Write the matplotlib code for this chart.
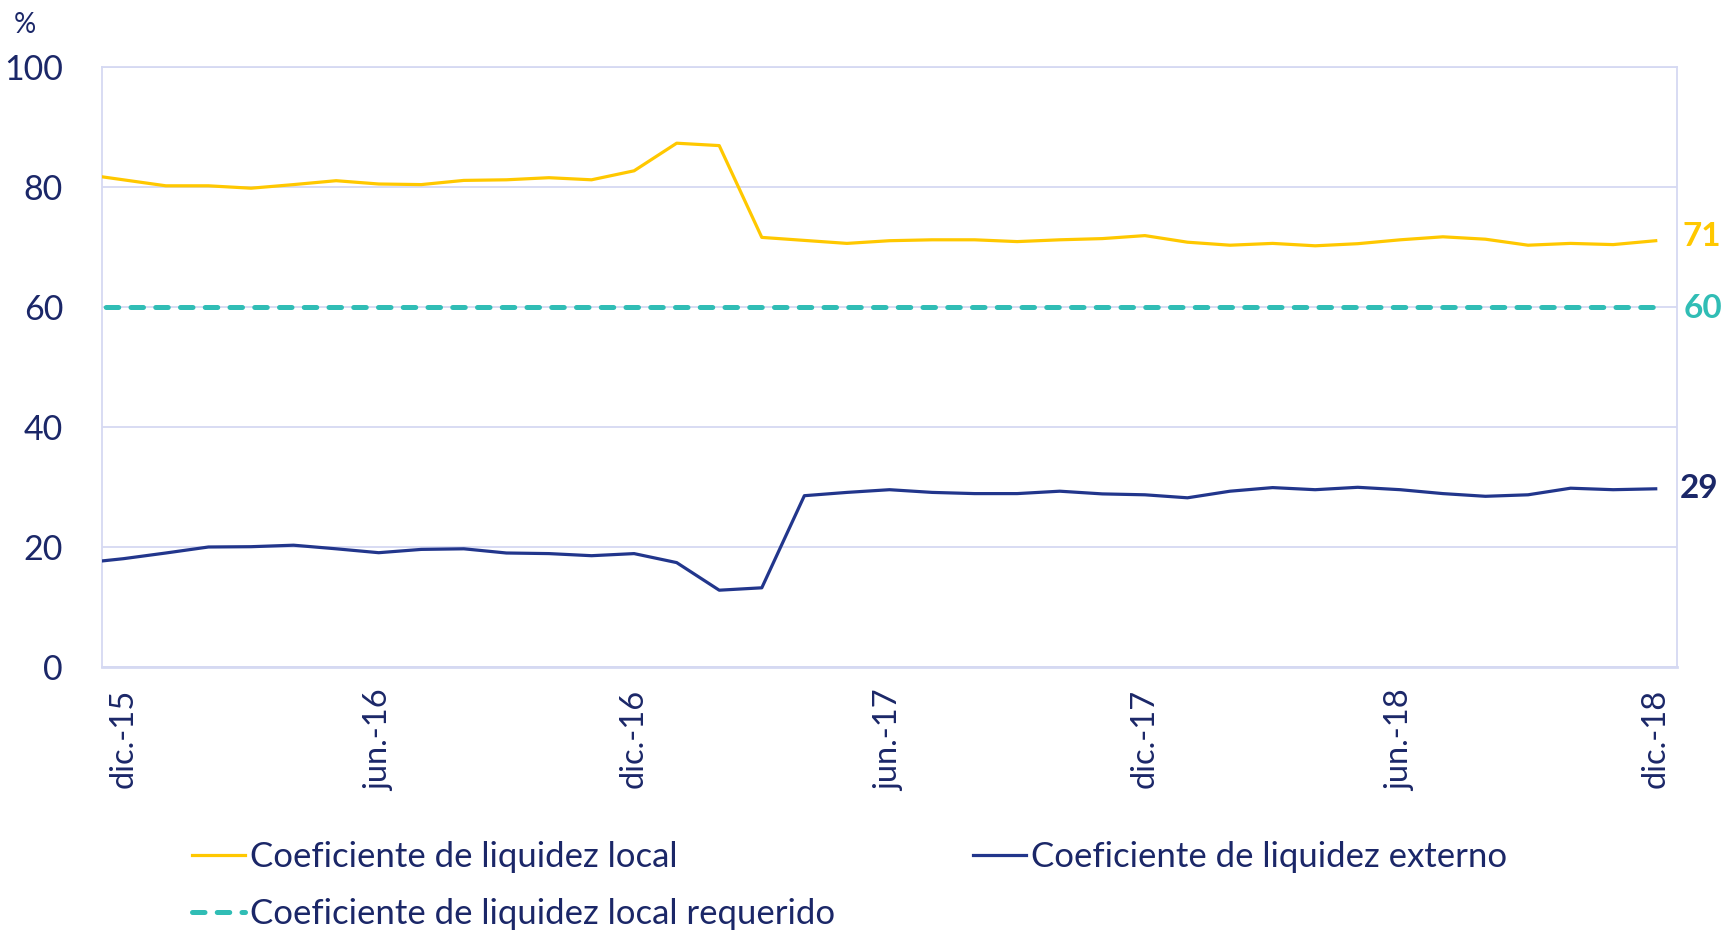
import matplotlib
matplotlib.use("Agg")
import matplotlib.pyplot as plt
from matplotlib.lines import Line2D
import numpy as np

plt.rcParams['font.family'] = ['Lato', 'DejaVu Sans']

# Monthly categories dic-15 .. dic-18 (37 months); a nov-15 value precedes the axis start
months = ["dic.-15", "ene.-16", "feb.-16", "mar.-16", "abr.-16", "may.-16", "jun.-16",
          "jul.-16", "ago.-16", "sep.-16", "oct.-16", "nov.-16", "dic.-16",
          "ene.-17", "feb.-17", "mar.-17", "abr.-17", "may.-17", "jun.-17",
          "jul.-17", "ago.-17", "sep.-17", "oct.-17", "nov.-17", "dic.-17",
          "ene.-18", "feb.-18", "mar.-18", "abr.-18", "may.-18", "jun.-18",
          "jul.-18", "ago.-18", "sep.-18", "oct.-18", "nov.-18", "dic.-18"]
tick_labels = ["dic.-15", "jun.-16", "dic.-16", "jun.-17", "dic.-17", "jun.-18", "dic.-18"]

prev_local = 82.2     # nov.-15
prev_externo = 17.3   # nov.-15

local = [81.2, 80.2, 80.2, 79.8, 80.4, 81.05, 80.5, 80.4, 81.1, 81.2, 81.55, 81.2, 82.7,
         87.3, 86.9, 71.6, 71.1, 70.6, 71.05, 71.2, 71.2, 70.9, 71.2, 71.4, 71.9,
         70.8, 70.3, 70.6, 70.2, 70.55, 71.2, 71.7, 71.3, 70.3, 70.6, 70.4, 71.05]
externo = [18.05, 19.0, 20.0, 20.05, 20.3, 19.7, 19.05, 19.6, 19.7, 19.0, 18.9, 18.55, 18.9,
           17.4, 12.8, 13.2, 28.55, 29.1, 29.55, 29.1, 28.9, 28.9, 29.3, 28.85, 28.7,
           28.2, 29.3, 29.9, 29.55, 29.95, 29.55, 28.9, 28.45, 28.7, 29.8, 29.55, 29.7]
requerido = [60.0] * 37
prev_requerido = 60.0

labels_series = ["Coeficiente de liquidez local", "Coeficiente de liquidez externo",
                 "Coeficiente de liquidez local requerido"]
end_labels = ["71", "60", "29"]

C_LOCAL = "#FFC800"
C_EXT = "#22368C"
C_REQ = "#30BDB5"
C_TEXT = "#1B2768"
C_GRID = "#D5D9F2"

fig = plt.figure(figsize=(17.22, 9.30), dpi=100)
ax = fig.add_axes([102 / 1722, 1 - 667 / 930, 1575 / 1722, 600 / 930])

n = len(months)
x = np.arange(n)
xe = np.concatenate([[-1], x])

DASH = (0, (2.5, 2.45))
l_req, = ax.plot(xe, [prev_requerido] + requerido, color=C_REQ, lw=3.6,
                 linestyle=DASH, dash_capstyle='round', solid_capstyle='round', zorder=3)
l_loc, = ax.plot(xe, [prev_local] + local, color=C_LOCAL, lw=2.3, zorder=4)
l_ext, = ax.plot(xe, [prev_externo] + externo, color=C_EXT, lw=2.3, zorder=4)

ax.set_xlim(-0.5, n - 0.5)
ax.set_ylim(0, 100)
ax.set_yticks([0, 20, 40, 60, 80, 100])
ax.yaxis.grid(True, color=C_GRID, lw=1.3)
ax.set_axisbelow(True)
for s in ax.spines.values():
    s.set_color(C_GRID)
    s.set_linewidth(1.3)
ax.spines['bottom'].set_linewidth(2.0)

tick_pos = [months.index(t) for t in tick_labels]
ax.set_xticks(tick_pos)
ax.set_xticklabels(tick_labels, rotation=90, va='top', ha='center')
ax.tick_params(axis='x', length=0, pad=16, labelsize=23.5, labelcolor=C_TEXT)
ax.tick_params(axis='y', length=0, pad=28, labelsize=24.5, labelcolor=C_TEXT)

fig.text(14 / 1722, 1 - 25 / 930, "%", fontsize=20, color=C_TEXT, va='center', ha='left')

# end labels
ax.annotate(end_labels[0], xy=(1, local[-1]), xycoords=('axes fraction', 'data'),
            xytext=(4, 3), textcoords='offset points', color=C_LOCAL, fontsize=24,
            fontweight='bold', va='center', ha='left', annotation_clip=False)
ax.annotate(end_labels[1], xy=(1, requerido[-1]), xycoords=('axes fraction', 'data'),
            xytext=(5, -1), textcoords='offset points', color=C_REQ, fontsize=24,
            fontweight='bold', va='center', ha='left', annotation_clip=False)
ax.annotate(end_labels[2], xy=(1, externo[-1]), xycoords=('axes fraction', 'data'),
            xytext=(2, 0), textcoords='offset points', color=C_TEXT, fontsize=24,
            fontweight='bold', va='center', ha='left', annotation_clip=False)

h_loc = Line2D([], [], color=C_LOCAL, lw=2.3)
h_ext = Line2D([], [], color=C_EXT, lw=2.3)
h_req = Line2D([], [], color=C_REQ, lw=3.6, linestyle=DASH, dash_capstyle='round')
leg = fig.legend([h_loc, h_req, h_ext], [labels_series[0], labels_series[2], labels_series[1]],
                 ncol=2, loc='upper left', bbox_to_anchor=(192 / 1722, 1 - 841 / 930),
                 frameon=False, fontsize=25, handlelength=1.53, handletextpad=0.15,
                 columnspacing=3.95, labelspacing=0.72, borderaxespad=0, borderpad=0)
for t in leg.get_texts():
    t.set_color(C_TEXT)

fig.savefig("out.png", dpi=100)
